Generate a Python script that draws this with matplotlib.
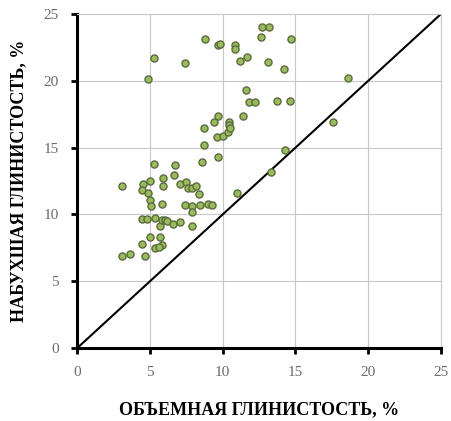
import matplotlib
matplotlib.use("Agg")
import matplotlib.pyplot as plt

# объемная глинистость (x) и набухшая глинистость (y), %
vol_clay = [8.8, 9.7, 9.8, 10.85, 10.85, 11.2, 11.7, 12.7, 13.2, 12.6, 14.7, 13.1, 14.2,
            5.3, 7.4, 4.9, 18.6, 11.6, 11.8, 12.2, 13.7, 14.6, 11.4, 9.7, 9.4,
            10.4, 10.4, 8.7, 9.6, 10.05, 10.35, 10.5, 8.7, 9.7, 8.55, 14.3, 17.6,
            13.3, 11.0, 3.1, 5.25, 6.75, 6.65, 5.9, 5.9, 4.55, 5.0, 4.45, 4.9,
            5.0, 5.8, 5.1, 7.1, 7.45, 7.65, 7.9, 8.2, 8.35, 7.4, 7.9, 7.9, 8.45,
            9.0, 9.25, 4.45, 4.8, 5.35, 5.7, 5.8, 6.05, 6.15, 6.6, 7.1, 7.9,
            5.0, 5.7, 5.8, 5.35, 5.65, 4.45, 3.1, 3.65, 4.65]
swell_clay = [23.1, 22.7, 22.75, 22.7, 22.4, 21.5, 21.8, 24.0, 24.0, 23.25, 23.1, 21.4, 20.9,
              21.7, 21.3, 20.1, 20.2, 19.3, 18.4, 18.4, 18.5, 18.5, 17.4, 17.4, 16.9,
              16.95, 16.7, 16.45, 15.8, 15.9, 16.2, 16.45, 15.2, 14.3, 13.95, 14.8, 16.95,
              13.2, 11.6, 12.1, 13.8, 13.7, 12.95, 12.7, 12.1, 12.3, 12.5, 11.8, 11.6,
              11.1, 10.8, 10.6, 12.3, 12.4, 12.0, 12.0, 12.1, 11.5, 10.7, 10.6, 10.2, 10.7,
              10.8, 10.7, 9.65, 9.65, 9.7, 9.1, 9.6, 9.6, 9.5, 9.3, 9.4, 9.15,
              8.35, 8.35, 7.7, 7.5, 7.6, 7.8, 6.9, 7.05, 6.9]
ticks = [0, 5, 10, 15, 20, 25]

plt.rcParams['font.family'] = ['Liberation Serif', 'DejaVu Serif']

fig = plt.figure(figsize=(4.51, 4.21), dpi=100)
ax = fig.add_axes([0.171, 0.173, 0.807, 0.794])

ax.plot([0, 25], [0, 25], color='black', lw=1.5, zorder=2)
ax.scatter(vol_clay, swell_clay, s=26, facecolor='#9bbb59', edgecolor='#5b6b40',
           linewidths=1.0, zorder=3)

ax.set_xlim(0, 25)
ax.set_ylim(0, 25)
ax.set_xticks(ticks)
ax.set_yticks(ticks)
ax.grid(True, color='#c8c8c8', lw=0.8)
ax.set_axisbelow(True)

for side in ['top', 'right']:
    ax.spines[side].set_color('#c8c8c8')
    ax.spines[side].set_linewidth(0.8)
for side in ['left', 'bottom']:
    ax.spines[side].set_color('black')
    ax.spines[side].set_linewidth(2.2)

ax.tick_params(direction='out', length=4, width=2, color='black',
               labelsize=11, labelcolor='#6a6a6a', pad=9)

ax.set_xlabel('ОБЪЕМНАЯ ГЛИНИСТОСТЬ, %', fontsize=13, fontweight='bold', labelpad=16)
ax.set_ylabel('НАБУХШАЯ ГЛИНИСТОСТЬ, %', fontsize=13, fontweight='bold', labelpad=12)

fig.savefig('out.png', dpi=100)
